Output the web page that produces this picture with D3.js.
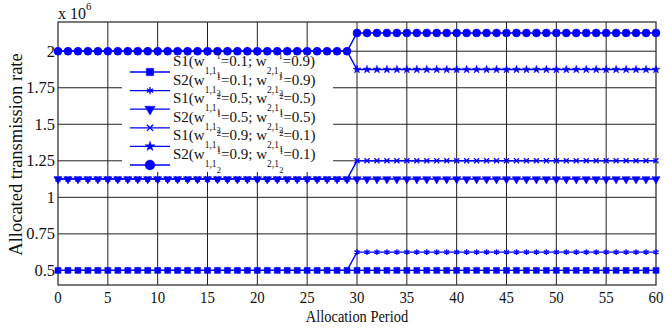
<!DOCTYPE html>
<html lang="en">
<head>
<meta charset="UTF-8">
<title>Allocated transmission rate</title>
<script src="https://d3js.org/d3.v7.min.js"></script>
<style>
    body { margin: 0; background: #fff; }
    text { font-family: "Liberation Serif", "DejaVu Serif", serif; fill: #111; }
</style>
</head>
<body>
<script>
    // Data (values in units of 10^6)
    var periods = d3.range(0, 61);          // allocation periods 0..60
    var switchPeriod = 30;                    // rates change from this period on
    var seriesNames = ["S1 (0.1/0.9)", "S2 (0.1/0.9)", "S1 (0.5/0.5)", "S2 (0.5/0.5)", "S1 (0.9/0.1)", "S2 (0.9/0.1)"];
    var rateBefore = [0.5, 0.5, 1.125, 1.125, 2.0, 2.0];
    var rateAfter = [0.5, 0.625, 1.125, 1.25, 1.875, 2.125];
    var markers = ["square", "asterisk", "triangleDown", "times", "star", "circle"];

    var xTicks = [0, 5, 10, 15, 20, 25, 30, 35, 40, 45, 50, 55, 60];
    var yTicks = [0.5, 0.75, 1, 1.25, 1.5, 1.75, 2];

    // legend labels
    var legendS = ["S1", "S2", "S1", "S2", "S1", "S2"];
    var legendW1 = ["0.1", "0.1", "0.5", "0.5", "0.9", "0.9"];
    var legendW2 = ["0.9", "0.9", "0.5", "0.5", "0.1", "0.1"];
    var legendSup = ["1", "1", "2", "1", "2", "1"];
    var legendSubSub = ["1", "2", "1", "2", "1", "2"];

    var W = 665, H = 330;
    var margin = { top: 22, right: 9, bottom: 45, left: 58 };
    var blue = "#0000ff";

    var svg = d3.select("body").append("svg")
        .attr("width", W)
        .attr("height", H);

    var x = d3.scaleLinear().domain([0, 60]).range([margin.left, W - margin.right]);
    var y = d3.scaleLinear().domain([0.4, 2.2]).range([H - margin.bottom, margin.top]);

    // grid
    svg.append("g").selectAll("line")
        .data(xTicks.slice(1, -1))
        .enter().append("line")
        .attr("x1", d => x(d)).attr("x2", d => x(d))
        .attr("y1", y(2.2)).attr("y2", y(0.4))
        .attr("stroke", "#222").attr("stroke-width", 1);

    svg.append("g").selectAll("line")
        .data(yTicks)
        .enter().append("line")
        .attr("x1", x(0)).attr("x2", x(60))
        .attr("y1", d => y(d)).attr("y2", d => y(d))
        .attr("stroke", "#222").attr("stroke-width", 1);

    // box
    svg.append("rect")
        .attr("x", x(0)).attr("y", y(2.2))
        .attr("width", x(60) - x(0)).attr("height", y(0.4) - y(2.2))
        .attr("fill", "none").attr("stroke", "#333").attr("stroke-width", 1.3);

    // tick labels
    svg.append("g").selectAll("text")
        .data(xTicks)
        .enter().append("text")
        .attr("transform", d => "translate(" + x(d) + "," + (y(0.4) + 18) + ") scale(0.9,1)")
        .attr("text-anchor", "middle")
        .style("font-size", "16.5px")
        .text(d => d);

    svg.append("g").selectAll("text")
        .data(yTicks)
        .enter().append("text")
        .attr("x", x(0) - 3)
        .attr("y", d => y(d) + 5.5)
        .attr("text-anchor", "end")
        .style("font-size", "16.5px")
        .text(d => d);

    // axis labels
    svg.append("text")
        .attr("transform", "translate(" + ((x(0) + x(60)) / 2) + "," + (H - 8) + ") scale(0.85,1)")
        .attr("text-anchor", "middle")
        .style("font-size", "17px")
        .text("Allocation Period");

    svg.append("text")
        .attr("transform", "translate(22," + ((y(0.4) + y(2.2)) / 2 + 1) + ") rotate(-90)")
        .attr("text-anchor", "middle")
        .style("font-size", "18.5px")
        .text("Allocated transmission rate");

    // exponent label
    var expo = svg.append("text")
        .attr("x", x(0))
        .attr("y", 19)
        .style("font-size", "16px");
    expo.append("tspan").text("x 10");
    expo.append("tspan").attr("dy", -9).style("font-size", "11px").text("6");

    // marker drawing
    function markerPath(kind, size) {
        switch (kind) {
            case "square": return d3.symbol(d3.symbolSquare, 36 * size)();
            case "asterisk": return d3.symbol(d3.symbolAsterisk || d3.symbolCross, 24 * size)();
            case "triangleDown": return d3.symbol(d3.symbolTriangle, 30 * size)();
            case "times": return d3.symbol(d3.symbolTimes || d3.symbolCross, 18 * size)();
            case "star": return d3.symbol(d3.symbolStar, 20 * size)();
            default: return d3.symbol(d3.symbolCircle, 50 * size)();
        }
    }
    function drawMarker(g, kind, cx, cy, size) {
        var stroked = (kind === "asterisk" || kind === "times");
        g.append("path")
            .attr("d", markerPath(kind, size))
            .attr("transform", "translate(" + cx + "," + cy + ")" + (kind === "triangleDown" ? " rotate(180)" : ""))
            .attr("fill", stroked ? "none" : blue)
            .attr("stroke", blue)
            .attr("stroke-width", stroked ? 1.3 : 0.5);
    }

    var line = d3.line()
        .x(d => x(d.p))
        .y(d => y(d.v));

    seriesNames.forEach(function (name, i) {
        var data = periods.map(p => ({ p: p, v: p < switchPeriod ? rateBefore[i] : rateAfter[i] }));
        var g = svg.append("g").attr("class", "series");
        g.append("path")
            .datum(data)
            .attr("d", line)
            .attr("fill", "none")
            .attr("stroke", blue)
            .attr("stroke-width", 1.4);
        data.forEach(d => drawMarker(g, markers[i], x(d.p), y(d.v), 1));
    });

    // legend
    var legend = svg.append("g").attr("class", "legend");
    legend.append("rect")
        .attr("x", 122).attr("y", 56)
        .attr("width", 211).attr("height", 116)
        .attr("fill", "#fff");

    legendS.forEach(function (s, i) {
        var base = 66 + i * 18.6;
        var my = base + 6;
        legend.append("line")
            .attr("x1", 130).attr("x2", 170)
            .attr("y1", my).attr("y2", my)
            .attr("stroke", blue).attr("stroke-width", 1.3);
        drawMarker(legend, markers[i], 150, my, 1.5);

        var t = legend.append("text")
            .attr("x", 173).attr("y", base)
            .style("font-size", "15px");
        t.append("tspan").text(s + "(w");
        t.append("tspan").attr("dy", 8).style("font-size", "9.5px").text("1,1");
        t.append("tspan").attr("dy", -15).style("font-size", "8.5px").text(legendSup[i]);
        t.append("tspan").attr("dx", -4).attr("dy", 21).style("font-size", "8.5px").text(legendSubSub[i]);
        t.append("tspan").attr("dy", -14).text("=" + legendW1[i] + "; w");
        t.append("tspan").attr("dy", 8).style("font-size", "9.5px").text("2,1");
        t.append("tspan").attr("dy", -15).style("font-size", "8.5px").text(legendSup[i]);
        t.append("tspan").attr("dx", -4).attr("dy", 21).style("font-size", "8.5px").text(legendSubSub[i]);
        t.append("tspan").attr("dy", -14).text("=" + legendW2[i] + ")");
    });
</script>
</body>
</html>
